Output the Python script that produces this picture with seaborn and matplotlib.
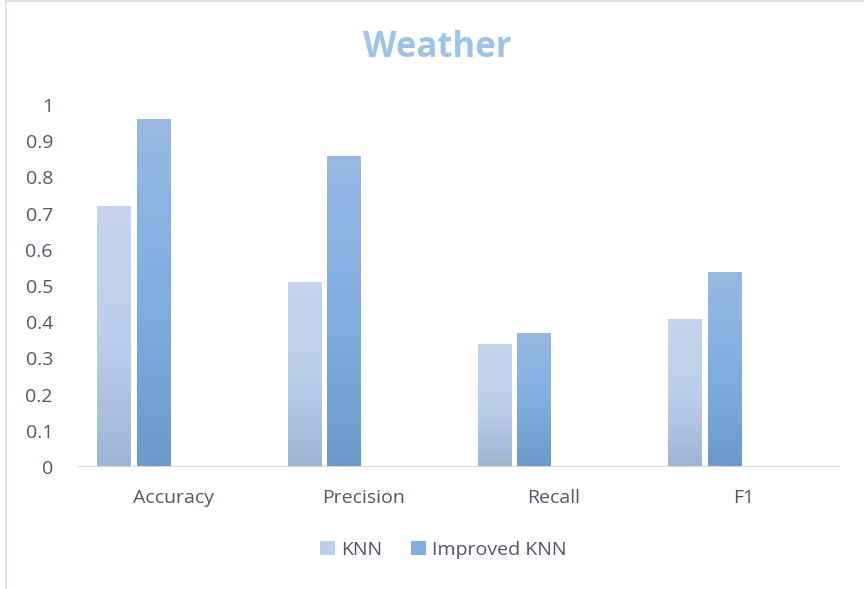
import numpy as np
import pandas as pd
import matplotlib
matplotlib.use("Agg")
import matplotlib.pyplot as plt
from matplotlib.lines import Line2D
from matplotlib.patches import Patch
from matplotlib.colors import LinearSegmentedColormap
import seaborn as sns

# Metric values per model
metrics = ["Accuracy", "Precision", "Recall", "F1"]
knn = [0.72, 0.51, 0.34, 0.41]
improved_knn = [0.96, 0.86, 0.37, 0.54]
series = ["KNN", "Improved KNN"]
# two unused series slots keep the bars grouped to the left of each category
hue_slots = ["KNN", "Improved KNN", "slot3", "slot4"]
y_ticks = [0, 0.1, 0.2, 0.3, 0.4, 0.5, 0.6, 0.7, 0.8, 0.9, 1]

df = pd.DataFrame({
    "metric": metrics * 2,
    "value": knn + improved_knn,
    "model": [series[0]] * len(metrics) + [series[1]] * len(metrics),
})

sns.set_theme(style="white")
plt.rcParams["font.family"] = ["Open Sans", "DejaVu Sans"]

text_color = "#4f5868"
grad = {
    "KNN": ("#c4d5ed", "#bccfea", "#9fb4d5"),
    "Improved KNN": ("#98b9e3", "#80aedf", "#6a99ca"),
}
solid = {"KNN": "#bccfea", "Improved KNN": "#7fa9db", "slot3": "#ffffff", "slot4": "#ffffff"}

fig = plt.figure(figsize=(8.64, 5.89), dpi=100)
ax = fig.add_axes([78 / 864, 1 - 467 / 589, (839 - 78) / 864, (467 - 105) / 589])

sns.barplot(data=df, x="metric", y="value", hue="model", hue_order=hue_slots,
            order=metrics, palette=solid, width=0.83, gap=0.16,
            legend=False, ax=ax, linewidth=0, errorbar=None)

# repaint each bar with a vertical gradient
cmaps = {name: LinearSegmentedColormap.from_list(name, [bot, mid, top])
         for name, (top, mid, bot) in grad.items()}
gradient = np.linspace(0, 1, 256).reshape(-1, 1)
for container, name in zip(ax.containers, hue_slots):
    if name not in grad:
        continue
    for bar in container:
        x0, y0 = bar.get_x(), bar.get_y()
        w, h = bar.get_width(), bar.get_height()
        im = ax.imshow(gradient, cmap=cmaps[name], origin="lower", aspect="auto",
                       extent=[x0, x0 + w, y0, y0 + h], zorder=bar.get_zorder())
        im.set_clip_path(bar)
        bar.set_facecolor("none")

ax.set_xlim(-0.5, len(metrics) - 0.5)
ax.set_ylim(0, 1)
ax.set_yticks(y_ticks)
ax.set_yticklabels([f"{t:g}" for t in y_ticks])
ax.set_xlabel("")
ax.set_ylabel("")
for s in ax.spines.values():
    s.set_visible(False)
ax.axhline(0, color="#d9d9d9", lw=1.5, zorder=5)
ax.tick_params(axis="both", length=0, labelsize=14, colors=text_color)
ax.tick_params(axis="y", pad=18)
ax.tick_params(axis="x", pad=16)

fig.text(0.506, 0.918, "Weather", ha="center", va="center", fontsize=25,
         fontweight="bold", color="#9dc3e6")

handles = [Patch(facecolor="#bccfea", edgecolor="none"),
           Patch(facecolor="#80aedf", edgecolor="none")]
fig.legend(handles, series, loc="center", bbox_to_anchor=(0.513, 1 - 550 / 589),
           ncol=2, frameon=False, fontsize=14, labelcolor=text_color,
           handlelength=0.75, handleheight=0.75, handletextpad=0.3, columnspacing=1.5)

# chart area border
border = "#dde1e8"
fig.add_artist(Line2D([5.5 / 864, 5.5 / 864], [0, 1 - 1 / 589], color=border, lw=1.5))
fig.add_artist(Line2D([5.5 / 864, 1], [1 - 1 / 589, 1 - 1 / 589], color=border, lw=1.5))

fig.savefig("out.png", dpi=100, facecolor="white")
